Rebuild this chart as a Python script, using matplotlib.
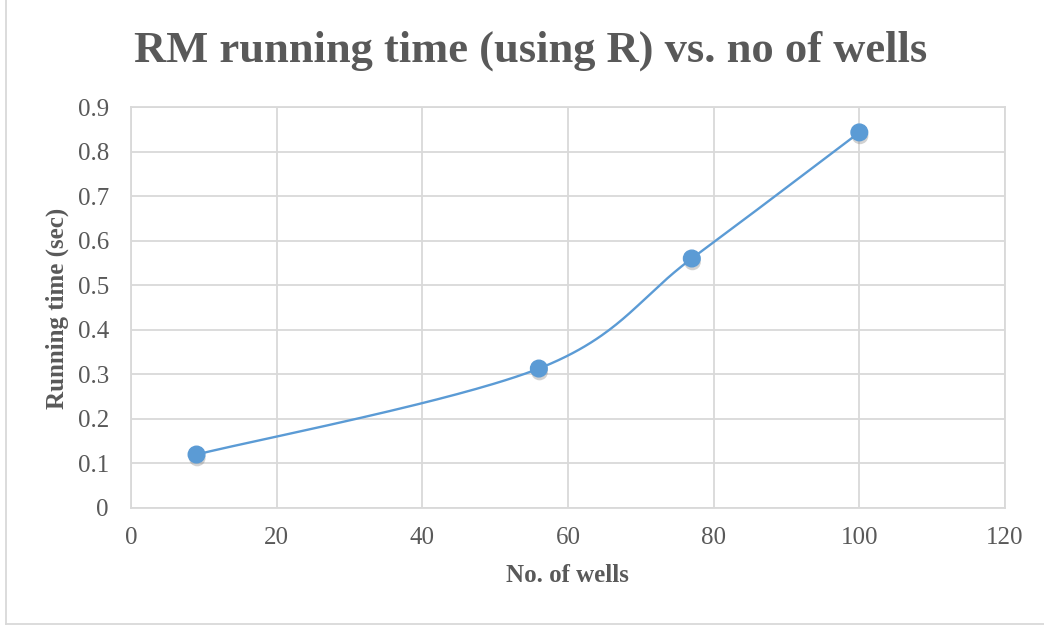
import numpy as np
import matplotlib
matplotlib.use("Agg")
import matplotlib.pyplot as plt
from matplotlib import patheffects as pe

wells = [9, 56, 77, 100]
run_time = [0.12, 0.313, 0.56, 0.843]
x_ticks = [0, 20, 40, 60, 80, 100, 120]
y_ticks = [0, 0.1, 0.2, 0.3, 0.4, 0.5, 0.6, 0.7, 0.8, 0.9]
y_tick_labels = ["0", "0.1", "0.2", "0.3", "0.4", "0.5", "0.6", "0.7", "0.8", "0.9"]

title = "RM running time (using R) vs. no of wells"
xlabel = "No. of wells"
ylabel = "Running time (sec)"

TXT = "#595959"
GRID = "#D9D9D9"
BLUE = "#5B9BD5"
plt.rcParams["font.family"] = ["Liberation Serif", "DejaVu Serif"]

W, H = 1044, 628
fig = plt.figure(figsize=(W / 100, H / 100), dpi=100)
L, R, T, B = 131, 1005, 107, 508
ax = fig.add_axes([L / W, 1 - B / H, (R - L) / W, (B - T) / H])
ax.set_xlim(0, 120)
ax.set_ylim(0, 0.9)
ax.set_xticks(x_ticks)
ax.set_xticklabels([str(v) for v in x_ticks])
ax.set_yticks(y_ticks)
ax.set_yticklabels(y_tick_labels)
ax.grid(True, color=GRID, linewidth=1.3)
ax.set_axisbelow(True)
for s in ax.spines.values():
    s.set_color(GRID)
    s.set_linewidth(1.3)
ax.tick_params(length=0, labelsize=18, colors=TXT)
ax.tick_params(axis="y", pad=16)
ax.tick_params(axis="x", pad=14)

# Smooth curve (Catmull-Rom through the data points, in pixel space)
px = (np.array(wells) - 0) / 120.0 * (R - L)
py = (np.array(run_time) - 0) / 0.9 * (B - T)
P = np.column_stack([px, py])
Pe = np.vstack([P[0], P, P[-1]])
curve = []
for i in range(1, len(Pe) - 2):
    p0, p1, p2, p3 = Pe[i - 1], Pe[i], Pe[i + 1], Pe[i + 2]
    c1 = p1 + (p2 - p0) / 6.0
    c2 = p2 - (p3 - p1) / 6.0
    t = np.linspace(0, 1, 60)[:, None]
    seg = (1 - t) ** 3 * p1 + 3 * (1 - t) ** 2 * t * c1 + 3 * (1 - t) * t ** 2 * c2 + t ** 3 * p2
    curve.append(seg)
curve = np.vstack(curve)
cx = curve[:, 0] / (R - L) * 120.0
cy = curve[:, 1] / (B - T) * 0.9
ax.plot(cx, cy, color=BLUE, linewidth=1.7, solid_capstyle="round", zorder=3)
ax.plot(wells, run_time, linestyle="none", marker="o", markersize=12,
        markerfacecolor=BLUE, markeredgecolor=BLUE, zorder=4,
        path_effects=[pe.SimplePatchShadow(offset=(0.5, -2.5), shadow_rgbFace="#808080", alpha=0.35),
                      pe.Normal()])

fig.text(531 / W, 1 - 51 / H, title, ha="center", va="center", fontsize=32,
         fontweight="bold", color=TXT)
fig.text(567 / W, 1 - 576 / H, xlabel, ha="center", va="center", fontsize=18,
         fontweight="bold", color=TXT)
fig.text(57 / W, 1 - 308 / H, ylabel, ha="center", va="center", fontsize=18,
         fontweight="bold", color=TXT, rotation=90)

# outer chart border (left and bottom visible)
fig.add_artist(plt.Line2D([6 / W, 6 / W], [1 - 624 / H, 1.0], transform=fig.transFigure,
                          color=GRID, linewidth=1.3))
fig.add_artist(plt.Line2D([6 / W, 1.0], [1 - 624 / H, 1 - 624 / H], transform=fig.transFigure,
                          color=GRID, linewidth=1.3))

fig.savefig("out.png", dpi=100)
